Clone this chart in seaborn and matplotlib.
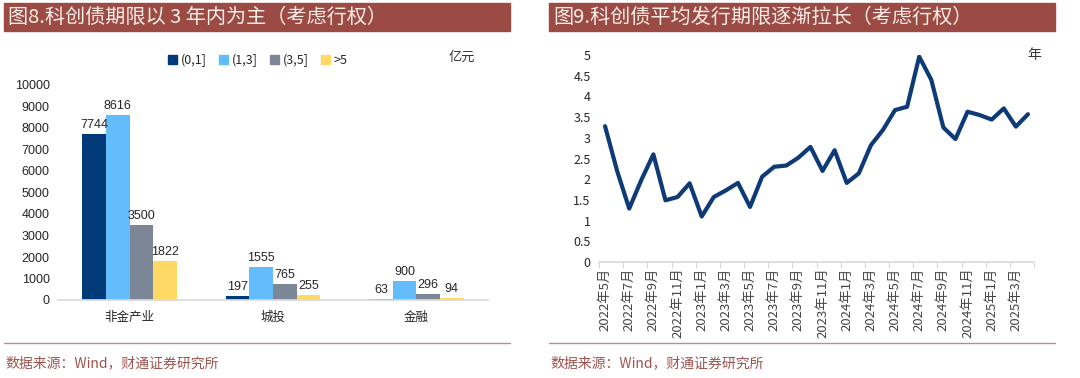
import pandas as pd
import matplotlib.pyplot as plt
import matplotlib.patches as mpatches
import seaborn as sns

# Figure 8 data: term buckets by issuer type (亿元)
categories = ['非金产业', '城投', '金融']
buckets = ['(0,1]', '(1,3]', '(3,5]', '>5']
vals_01 = [7744, 197, 63]
vals_13 = [8616, 1555, 900]
vals_35 = [3500, 765, 296]
vals_5p = [1822, 255, 94]
bar_colors = ['#003A78', '#63BDFD', '#7B8797', '#FFD966']

# Figure 9 data: average issuance term (年), monthly 2022-05 .. 2025-04
months = ['2022年5月', '2022年6月', '2022年7月', '2022年8月', '2022年9月', '2022年10月',
          '2022年11月', '2022年12月', '2023年1月', '2023年2月', '2023年3月', '2023年4月',
          '2023年5月', '2023年6月', '2023年7月', '2023年8月', '2023年9月', '2023年10月',
          '2023年11月', '2023年12月', '2024年1月', '2024年2月', '2024年3月', '2024年4月',
          '2024年5月', '2024年6月', '2024年7月', '2024年8月', '2024年9月', '2024年10月',
          '2024年11月', '2024年12月', '2025年1月', '2025年2月', '2025年3月', '2025年4月']
avg_term = [3.28, 2.2, 1.29, 1.98, 2.6, 1.49, 1.57, 1.9, 1.1, 1.57, 1.73, 1.91,
            1.33, 2.06, 2.3, 2.33, 2.52, 2.78, 2.2, 2.7, 1.91, 2.14, 2.82, 3.19,
            3.67, 3.75, 4.96, 4.4, 3.25, 2.97, 3.63, 3.55, 3.44, 3.71, 3.27, 3.57]

sns.set_theme(style='white')
plt.rcParams['font.family'] = ['Noto Sans CJK SC', 'DejaVu Sans']

W, H = 1080, 378
fig = plt.figure(figsize=(W / 100, H / 100), dpi=100)

def px_axes(l, t, r, b):
    return fig.add_axes([l / W, 1 - b / H, (r - l) / W, (b - t) / H])

title_red = '#9C4A44'
src_red = '#A0534D'

# title bars, bottom rules, source notes
for (x0, x1, txt) in [(4, 510, '图8.科创债期限以 3 年内为主（考虑行权）'),
                      (549, 1055, '图9.科创债平均发行期限逐渐拉长（考虑行权）')]:
    fig.patches.append(mpatches.Rectangle((x0 / W, 1 - 31 / H), (x1 - x0) / W, 28 / H,
                                          transform=fig.transFigure, color=title_red, zorder=0))
    fig.text((x0 + 4) / W, 1 - 17 / H, txt, color='#F7EEE8', fontsize=14.5, va='center', ha='left')
    fig.add_artist(plt.Line2D([x0 / W, x1 / W], [1 - 343 / H, 1 - 343 / H], color='#BE8A88', lw=1))
    fig.text((x0 + 1) / W, 1 - 363 / H, '数据来源：Wind，财通证券研究所', color=src_red,
             fontsize=10, va='center', ha='left')

# ---- left: grouped bars ----
ax1 = px_axes(58, 85, 488, 300)
df = pd.DataFrame({
    'cat': categories * 4,
    'bucket': [b for b in buckets for _ in categories],
    'val': vals_01 + vals_13 + vals_35 + vals_5p,
})
sns.barplot(data=df, x='cat', y='val', hue='bucket', palette=bar_colors, width=0.66,
            saturation=1, ax=ax1, legend=False, edgecolor='none')
for c in ax1.containers:
    ax1.bar_label(c, fmt='%d', fontsize=9, padding=2, family=['Liberation Sans'])
ax1.set_ylim(0, 10000)
ax1.set_yticks(range(0, 10001, 1000))
ax1.set_xlabel('')
ax1.set_ylabel('')
for s in ['top', 'right', 'left']:
    ax1.spines[s].set_visible(False)
ax1.spines['bottom'].set_color('#D9D9D9')
ax1.tick_params(axis='y', labelsize=9, length=0, pad=6)
ax1.tick_params(axis='x', labelsize=9, length=0, pad=8)
for lab in ax1.get_yticklabels():
    lab.set_family(['Liberation Sans'])
handles = [mpatches.Patch(color=c, label=b) for c, b in zip(bar_colors, buckets)]
ax1.legend(handles=handles, loc='center', bbox_to_anchor=(0.465, 1.116), ncol=4, frameon=False,
           fontsize=9, handlelength=0.7, handleheight=0.7, handletextpad=0.3, columnspacing=1.0)
ax1.text((462 - 58) / 430, (300 - 57) / 215, '亿元', transform=ax1.transAxes, fontsize=9.5,
         ha='center', va='center', color='#333333')

# ---- right: line ----
ax2 = px_axes(599, 55, 1034, 262)
dl = pd.DataFrame({'idx': range(len(months)), 'term': avg_term})
sns.lineplot(data=dl, x='idx', y='term', color='#0E3A78', lw=3, ax=ax2,
             solid_joinstyle='round', solid_capstyle='round')
ax2.set_xlim(-0.5, len(months) - 0.5)
ax2.set_ylim(0, 5)
ax2.set_yticks([0, 0.5, 1, 1.5, 2, 2.5, 3, 3.5, 4, 4.5, 5])
ax2.set_yticklabels(['0', '0.5', '1', '1.5', '2', '2.5', '3', '3.5', '4', '4.5', '5'])
ax2.set_xticks(range(0, len(months), 2))
ax2.set_xticklabels(months[::2], rotation=90, fontsize=9.5, color='#444444')
ax2.set_xticks([i - 0.5 for i in range(0, len(months) + 1, 2)], minor=True)
ax2.tick_params(axis='x', which='major', length=0, pad=4)
ax2.tick_params(axis='x', which='minor', length=4, color='#D9D9D9', width=0.8, bottom=True)
ax2.tick_params(axis='y', labelsize=9, length=0, pad=6)
ax2.set_xlabel('')
ax2.set_ylabel('')
for s in ['top', 'right', 'left']:
    ax2.spines[s].set_visible(False)
ax2.spines['bottom'].set_color('#D9D9D9')
ax2.text(1.0, 1.0, '年', transform=ax2.transAxes, fontsize=10, ha='center', va='center',
         color='#333333')

fig.savefig('out.png', dpi=100)
